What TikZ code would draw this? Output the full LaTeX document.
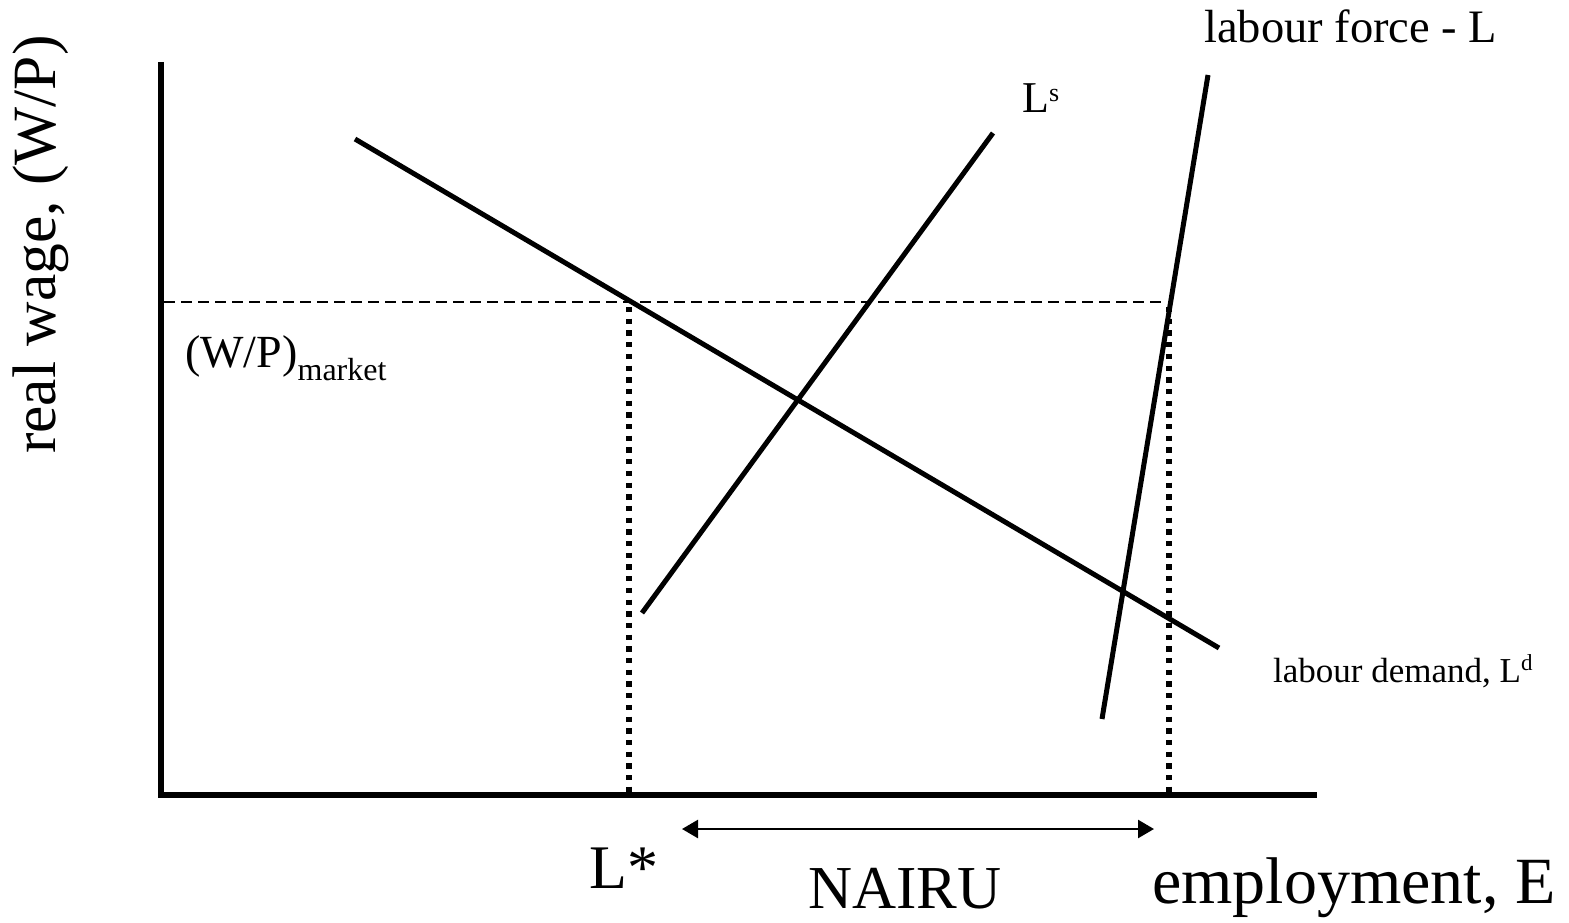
\documentclass[tikz,border=0pt]{standalone}
\usepackage{fontspec}
\setmainfont{Liberation Serif}
\usetikzlibrary{arrows.meta}
\newcommand{\fsz}[1]{\fontsize{#1}{#1}\selectfont}
\begin{document}
\begin{tikzpicture}[x=1pt,y=-1pt,
  axis/.style={line width=6pt},
  curve/.style={line width=5pt},
  wageline/.style={line width=2.5pt, dash pattern=on 11pt off 6pt},
  dropline/.style={line width=5.3pt, dash pattern=on 5.3pt off 6.4pt},
  span/.style={line width=2.5pt, {Triangle[length=16pt,width=18pt]}-{Triangle[length=16pt,width=18pt]}},
  lbl/.style={inner sep=0pt, anchor=base west}]
\useasboundingbox (0,0) rectangle (1569,923);
% axes
\coordinate (ytop) at (161,62);
\coordinate (O) at (161,795);
\coordinate (xend) at (1317,795);
\draw[axis] (ytop) -- (O) -- (xend);
% curves
\coordinate (d1) at (355,139);
\coordinate (d2) at (1219,648);
\draw[curve] (d1) -- (d2);
\coordinate (s1) at (642,613);
\coordinate (s2) at (993,133);
\draw[curve] (s1) -- (s2);
\coordinate (f1) at (1102,719);
\coordinate (f2) at (1208,75);
\draw[curve] (f1) -- (f2);
% market wage and drop lines
\coordinate (w0) at (164,302);
\coordinate (w1) at (1167,302);
\draw[wageline] (w0) -- (w1);
\coordinate (a1) at (629,307);
\coordinate (a2) at (629,793);
\draw[dropline] (a1) -- (a2);
\coordinate (b1) at (1169,307);
\coordinate (b2) at (1169,793);
\draw[dropline] (b1) -- (b2);
% NAIRU span
\coordinate (n1) at (682,829);
\coordinate (n2) at (1154,829);
\draw[span] (n1) -- (n2);
% labels
\node[lbl, rotate=90, font=\fsz{61.5}] (ylab) at (55,454) {real wage, (W/P)};
\node[lbl, font=\fsz{46}] (wm) at (185,367) {(W/P)\raisebox{-13pt}{\fsz{32}market}};
\node[lbl, font=\fsz{44}] (ls) at (1022,113) {L\raisebox{11pt}{\fsz{26}s}};
\node[lbl, font=\fsz{46.5}] (lf) at (1204,43) {labour force - L};
\node[lbl, font=\fsz{35}] (ld) at (1273,682) {labour demand, L\raisebox{12pt}{\fsz{23}d}};
\node[lbl, font=\fsz{62}] (lstar) at (589,888) {L*};
\node[lbl, font=\fsz{61}] (nairu) at (808,908) {NAIRU};
\node[lbl, font=\fsz{66}] (emp) at (1152,903) {employment, E};
\end{tikzpicture}
\end{document}
